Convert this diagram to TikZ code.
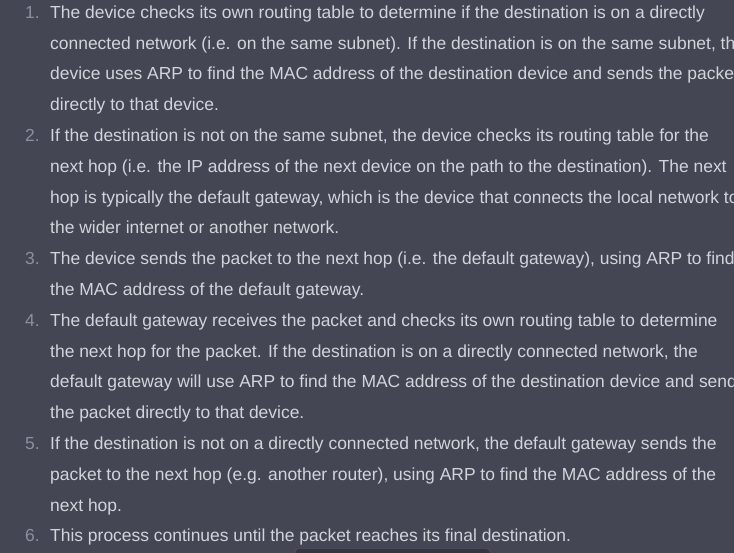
\documentclass[tikz,border=0pt]{standalone}
\usepackage{fontspec}
\setmainfont{Liberation Sans}
\definecolor{chatbg}{HTML}{444654}
\definecolor{chattext}{HTML}{D1D5DB}
\definecolor{chatnum}{HTML}{8E8EA0}
\definecolor{btnfill}{HTML}{343541}
\definecolor{btnline}{HTML}{565869}
\tikzset{
  itemline/.style={anchor=base west, inner sep=0pt, text=chattext, font=\fontsize{17.45}{17.45}\selectfont},
  itemnum/.style={anchor=base east, inner sep=0pt, text=chatnum, font=\fontsize{17.45}{17.45}\selectfont}
}
\begin{document}
\begin{tikzpicture}[x=1pt, y=-1pt]
    \useasboundingbox (0, 0) rectangle (734, 553);
    \clip (0, 0) rectangle (734, 553);
    \fill [chatbg] (0, 0) rectangle (734, 553);
    % numbers
    \node [itemnum] (n1) at (40, 18.3) {1.};
    \node [itemnum] (n2) at (40, 141.5) {2.};
    \node [itemnum] (n3) at (40, 264.7) {3.};
    \node [itemnum] (n4) at (40, 326.3) {4.};
    \node [itemnum] (n5) at (40, 449.5) {5.};
    \node [itemnum] (n6) at (40, 541.9) {6.};
    % lines of text
    \node [itemline] (l1) at (50, 18.3) {The device checks its own routing table to determine if the destination is on a directly};
    \node [itemline] (l2) at (50, 49.1) {connected network (i.e. on the same subnet). If the destination is on the same subnet, the};
    \node [itemline] (l3) at (50, 79.9) {device uses ARP to find the MAC address of the destination device and sends the packet};
    \node [itemline] (l4) at (50, 110.7) {directly to that device.};
    \node [itemline] (l5) at (50, 141.5) {If the destination is not on the same subnet, the device checks its routing table for the};
    \node [itemline] (l6) at (50, 172.3) {next hop (i.e. the IP address of the next device on the path to the destination). The next};
    \node [itemline] (l7) at (50, 203.1) {hop is typically the default gateway, which is the device that connects the local network to};
    \node [itemline] (l8) at (50, 233.9) {the wider internet or another network.};
    \node [itemline] (l9) at (50, 264.7) {The device sends the packet to the next hop (i.e. the default gateway), using ARP to find};
    \node [itemline] (l10) at (50, 295.5) {the MAC address of the default gateway.};
    \node [itemline] (l11) at (50, 326.3) {The default gateway receives the packet and checks its own routing table to determine};
    \node [itemline] (l12) at (50, 357.1) {the next hop for the packet. If the destination is on a directly connected network, the};
    \node [itemline] (l13) at (50, 387.9) {default gateway will use ARP to find the MAC address of the destination device and sends};
    \node [itemline] (l14) at (50, 418.7) {the packet directly to that device.};
    \node [itemline] (l15) at (50, 449.5) {If the destination is not on a directly connected network, the default gateway sends the};
    \node [itemline] (l16) at (50, 480.3) {packet to the next hop (e.g. another router), using ARP to find the MAC address of the};
    \node [itemline] (l17) at (50, 511.1) {next hop.};
    \node [itemline] (l18) at (50, 541.9) {This process continues until the packet reaches its final destination.};
    % button peeking in at the bottom
    \draw [btnline, fill=btnfill, rounded corners=4] (295, 548.5) rectangle (490, 570);
\end{tikzpicture}
\end{document}
